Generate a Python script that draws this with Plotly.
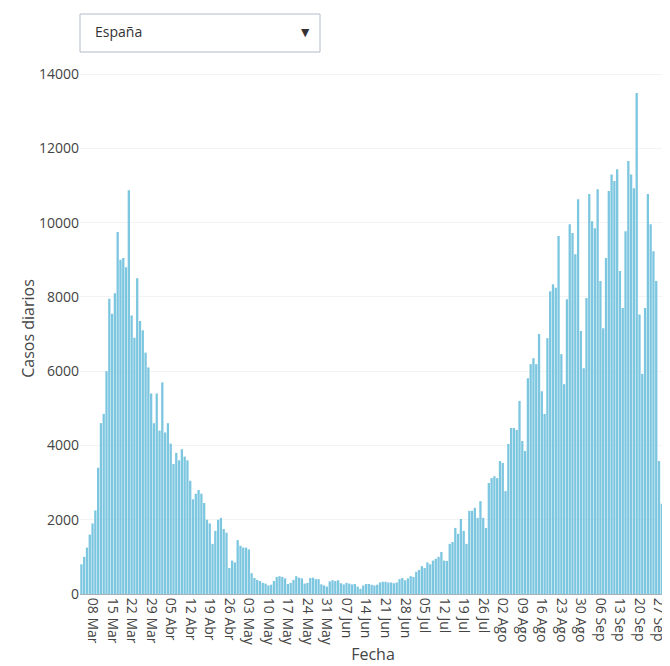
import pandas as pd
import plotly.graph_objects as go

# Daily cases, Spain, from 04 Mar 2020 to 29 Sep 2020
start_date = "2020-03-04"
casos = [
    # 04 Mar - 18 Abr
    800, 1000, 1250, 1600, 1900, 2250, 3400, 4600, 4850, 6000,
    7950, 7550, 8100, 9750, 9000, 9050, 8800, 10870, 7500, 6900,
    8500, 7350, 7100, 6500, 6100, 5400, 4600, 5400, 4400, 5700,
    4350, 4600, 4050, 3500, 3800, 3600, 3900, 3700, 3600, 3050,
    2550, 2700, 2800, 2700, 2450,
    # 19 Abr - 04 May
    2000, 1900, 1350, 1700, 2000, 2050, 1750, 1650, 700, 900,
    850, 1450, 1300, 1250, 1250, 1200,
    # 05 May - 26 Jun
    560, 430, 380, 350, 300, 280, 230, 250, 350, 460,
    480, 460, 420, 270, 300, 380, 480, 440, 420, 280,
    300, 430, 440, 400, 400, 260, 230, 200, 340, 370,
    350, 370, 290, 260, 300, 280, 260, 270, 200, 140,
    230, 270, 270, 250, 230, 250, 310, 330, 330, 310,
    310, 290, 310,
    # 27 Jun - 14 Jul
    400, 430, 370, 420, 480, 460, 600, 650, 750, 700,
    850, 800, 900, 950, 1000, 1130, 900, 890,
    # 15 Jul - 12 Ago
    1350, 1400, 1780, 1620, 2020, 1700, 1350, 2240, 2240, 2320,
    2050, 2500, 2050, 1780, 2990, 3120, 3170, 3120, 3580, 3530,
    2770, 4040, 4470, 4470, 4420, 5200, 4120, 3850, 5810,
    # 13 Ago - 29 Sep
    6190, 6350, 6190, 7000, 5460, 4850, 6890, 8150, 8340, 8250,
    9640, 6460, 5650, 7940, 9960, 9720, 9150, 10630, 7080, 6080,
    7970, 10770, 10040, 9850, 10900, 8430, 7160, 9050, 10850, 11300,
    11120, 11440, 8700, 7700, 9770, 11660, 11300, 10930, 13490, 7530,
    5930, 7700, 10770, 9960, 9230, 8430, 3580, 2430, 1250,
]

tick_start = "2020-03-08"
tick_labels = [
    "08 Mar", "15 Mar", "22 Mar", "29 Mar", "05 Abr", "12 Abr", "19 Abr",
    "26 Abr", "03 May", "10 May", "17 May", "24 May", "31 May", "07 Jun",
    "14 Jun", "21 Jun", "28 Jun", "05 Jul", "12 Jul", "19 Jul", "26 Jul",
    "02 Ago", "09 Ago", "16 Ago", "23 Ago", "30 Ago", "06 Sep", "13 Sep",
    "20 Sep", "27 Sep",
]
region_label = "España"

fechas = pd.date_range(start_date, periods=len(casos), freq="D")
tick_vals = pd.date_range(tick_start, periods=len(tick_labels), freq="7D")

FONT = "Open Sans, Verdana, Arial, sans-serif"

fig = go.Figure()
fig.add_trace(go.Bar(
    x=fechas, y=casos, name=region_label,
    marker=dict(color="#7cc6e0", line=dict(width=0)),
))

# page body has an 8px margin; figure is wider than the window (cut at right)
OFF = 8
W, H = 700, 658
L, T, B = 72, 55, 72
PLOT_RIGHT = 658
R = W - PLOT_RIGHT
pw, ph = W - L - R, H - T - B

def px_x(sx):
    return (sx - OFF - L) / pw

def px_y(sy):
    return (H - B - (sy - OFF)) / ph

fig.update_layout(
    width=W, height=H,
    margin=dict(l=L, r=R, t=T, b=B, autoexpand=False),
    paper_bgcolor="white", plot_bgcolor="white",
    font=dict(family=FONT, size=14, color="#444"),
    bargap=0.18,
    showlegend=False,
    xaxis=dict(
        title=dict(text="Fecha", font=dict(size=16, color="#444"), standoff=3),
        tickmode="array", tickvals=tick_vals, ticktext=tick_labels,
        tickangle=90, showgrid=False, zeroline=False,
        showline=True, linecolor="#a9b0b8", linewidth=1,
        range=[fechas[0] - pd.Timedelta(hours=12), fechas[-1] + pd.Timedelta(hours=12)],
        automargin=False,
        tickfont=dict(size=14, color="#444"),
    ),
    yaxis=dict(
        title=dict(text="Casos diarios", font=dict(size=16, color="#444"), standoff=0),
        range=[0, 14300], dtick=2000, tick0=0, tickformat="d",
        showgrid=True, gridcolor="#f3f3f3", zeroline=False,
        automargin=False,
        tickfont=dict(size=14, color="#444"),
    ),
    shapes=[dict(
        type="rect", xref="paper", yref="paper",
        x0=px_x(80), x1=px_x(320), y0=px_y(52), y1=px_y(14),
        line=dict(color="#b2bacb", width=1), fillcolor="white", layer="above",
    )],
    updatemenus=[dict(
        type="dropdown", direction="down",
        x=px_x(83), xanchor="left", y=px_y(16.5), yanchor="top",
        pad=dict(t=0, b=0, l=0, r=0),
        bgcolor="rgba(0,0,0,0)", borderwidth=0,
        font=dict(family=FONT, size=14, color="#333"),
        showactive=False,
        buttons=[dict(
            label=region_label + "\u00a0" * 40,
            method="restyle", args=["visible", [True]],
        )],
    )],
)

fig.write_html("out.html", post_script="document.body.style.overflow='hidden';")
